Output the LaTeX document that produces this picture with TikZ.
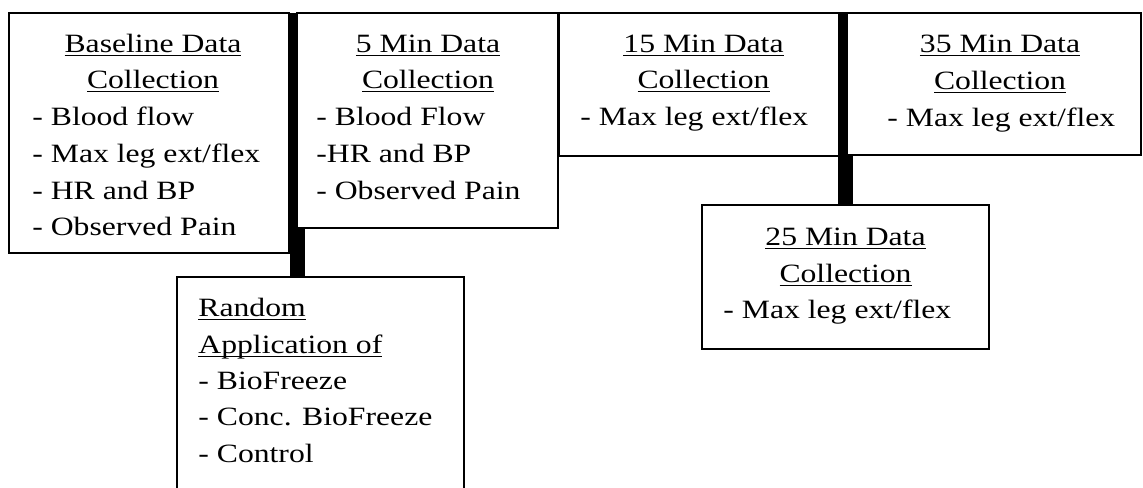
\documentclass[tikz,border=0pt]{standalone}
\usepackage{fontspec}
\setmainfont{Liberation Serif}[FakeStretch=1.2]

% fixed-depth underline
\newcommand{\undl}[1]{\setbox0\hbox{#1}\rlap{\rule[-2pt]{\wd0}{0.7pt}}\box0}

\tikzset{
  box/.style={draw, line width=0.9pt, fill=white, inner sep=0pt, outer sep=0pt},
  bar/.style={line width=7.5pt},
  hd/.style={anchor=base, inner sep=0pt},
  item/.style={anchor=base west, inner sep=0pt},
}

\begin{document}
\begin{tikzpicture}[x=0.5pt, y=-0.5pt, font=\fontsize{13.2}{16}\selectfont]
\useasboundingbox (0,0) rectangle (1143,487);

% boxes under the bars
\node[box, minimum width=140pt, minimum height=120pt] (base) at (149,133) {}; % Baseline
\node[box, minimum width=144pt, minimum height=71.5pt] (min15) at (703,84.5) {}; % 15 Min
\node[box, minimum width=143.5pt, minimum height=72pt] (min25) at (845.5,277) {}; % 25 Min
\node[box, minimum width=143.5pt, minimum height=111.5pt] (rand) at (320.5,388.5) {}; % Random
\node[box, minimum width=130.5pt, minimum height=107.5pt] (min5) at (427.5,120.5) {}; % 5 Min
\node[box, minimum width=147pt, minimum height=71pt] (min35) at (994,84) {}; % 35 Min

% bars
\draw[bar] (min5.north west) -- (min5.north west |- rand.north) ; % bar 1
\draw[bar] (min25.north |- min35.north west) -- (min25.north) ; % bar 2

% top boxes again, over the bars
\node[box, minimum width=130.5pt, minimum height=107.5pt] at (min5) {}; % 5 Min
\node[box, minimum width=147pt, minimum height=71pt] at (min35) {}; % 35 Min

\draw (153,52) node[hd] (bh1) {\undl{Baseline Data}}; % Baseline
\draw (153,88) node[hd] (bh2) {\undl{Collection}}; % Baseline
\draw (32,125) node[item] (bi1) {- Blood flow}; % Baseline
\draw (32,162) node[item] (bi2) {- Max leg ext/flex}; % Baseline
\draw (32,199) node[item] (bi3) {- HR and BP}; % Baseline
\draw (32,235) node[item] (bi4) {- Observed Pain}; % Baseline

\draw (428,52) node[hd] (ah1) {\undl{5 Min Data}}; % 5 Min
\draw (428,88) node[hd] (ah2) {\undl{Collection}}; % 5 Min
\draw (316,125) node[item] (ai1) {- Blood Flow}; % 5 Min
\draw (316,162) node[item] (ai2) {-HR and BP}; % 5 Min
\draw (316,199) node[item] (ai3) {- Observed Pain}; % 5 Min

\draw (703.5,52) node[hd] (ch1) {\undl{15 Min Data}}; % 15 Min
\draw (703.5,88) node[hd] (ch2) {\undl{Collection}}; % 15 Min
\draw (580,125) node[item] (ci1) {- Max leg ext/flex}; % 15 Min

\draw (1000,52) node[hd] (eh1) {\undl{35 Min Data}}; % 35 Min
\draw (1000,89) node[hd] (eh2) {\undl{Collection}}; % 35 Min
\draw (887,126) node[item] (ei1) {- Max leg ext/flex}; % 35 Min

\draw (845.5,245) node[hd] (dh1) {\undl{25 Min Data}}; % 25 Min
\draw (845.5,282) node[hd] (dh2) {\undl{Collection}}; % 25 Min
\draw (723,318) node[item] (di1) {- Max leg ext/flex}; % 25 Min

\draw (198,316) node[item] (rh1) {\undl{Random}}; % Random
\draw (198,353) node[item] (rh2) {\undl{Application of}}; % Random
\draw (198,389) node[item] (ri1) {- BioFreeze}; % Random
\draw (198,425) node[item] (ri2) {- Conc. BioFreeze}; % Random
\draw (198,462) node[item] (ri3) {- Control}; % Random

\end{tikzpicture}
\end{document}
